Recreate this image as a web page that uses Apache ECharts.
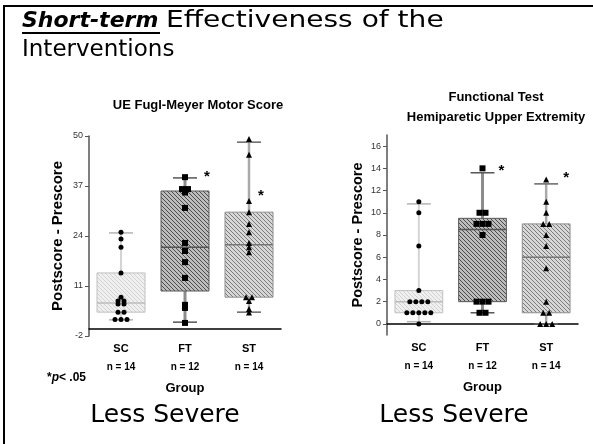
<!DOCTYPE html>
<html>
<head>
<meta charset="utf-8">
<script src="https://cdn.jsdelivr.net/npm/echarts@6/dist/echarts.min.js"></script>
</head>
<body style="margin:0;">
<div id="main" style="width:593px;height:444px;"></div>
<script type="text/javascript">
// groups and sample sizes
var groups = ['SC', 'FT', 'ST'];
var groupN = ['n = 14', 'n = 12', 'n = 14'];
var groupSymbols = ['circle', 'rect', 'triangle'];

// UE Fugl-Meyer: [low whisker, Q1, median, Q3, high whisker]
var fmBox = [
  [2.2, 4.2, 6.6, 14.4, 24.8],
  [1.6, 9.7, 21.1, 35.7, 39.1],
  [4.2, 8.1, 21.7, 30.2, 48.4]
];
var fmPoints = [
  [25, 23.2, 21.1, 14.4, 8.1, 7.1, 7.1, 6.3, 6.3, 4.2, 4.2, 2.3, 2.3, 2.3],
  [39.3, 36.2, 36.2, 35.3, 31.3, 22.2, 20.1, 17.2, 13.1, 6.1, 5.3, 1.4],
  [49.2, 45.1, 33.1, 30.2, 27.1, 25, 22.2, 21.1, 19.8, 8.1, 8.1, 7.1, 5, 4.1]
];
var fmStars = [null, 39.4, 34.4];
var fmTicks = [-2, 11, 24, 37, 50];

// Functional test: [low whisker, Q1, median, Q3, high whisker]
var ftBox = [
  [0.2, 1, 2, 3, 10.8],
  [1, 2, 8.5, 9.5, 13.6],
  [0, 1, 6, 9, 12.6]
];
var ftPoints = [
  [11, 10, 7, 3, 2, 2, 2, 2, 1, 1, 1, 1, 1, 0],
  [14, 10, 10, 9, 9, 9, 8, 2, 2, 2, 1, 1],
  [13, 11, 10, 9, 9, 8, 7, 5, 2, 1, 1, 0, 0, 0]
];
var ftStars = [null, 13.8, 13.1];
var ftTicks = [0, 2, 4, 6, 8, 10, 12, 14, 16];

// diagonal hatch fill
function hatch(bg, fg) {
  var c = document.createElement('canvas');
  c.width = 4; c.height = 4;
  var ctx = c.getContext('2d');
  ctx.fillStyle = bg;
  ctx.fillRect(0, 0, 4, 4);
  ctx.strokeStyle = fg;
  ctx.lineWidth = 1;
  ctx.beginPath();
  ctx.moveTo(0, 0); ctx.lineTo(4, 4);
  ctx.moveTo(-1, 3); ctx.lineTo(1, 5);
  ctx.moveTo(3, -1); ctx.lineTo(5, 1);
  ctx.stroke();
  return { image: c, repeat: 'repeat' };
}

var boxStyles = [
  { fill: hatch('#f0f0f0', '#d2d2d2'), border: '#c0c0c0', whisker: '#d4d4d4', ww: 2, cap: '#b4b4b4', median: '#bcbcbc' },
  { fill: hatch('#bdbdbd', '#4c4c4c'), border: '#585858', whisker: '#8c8c8c', ww: 3, cap: '#555', median: '#555' },
  { fill: hatch('#d8d8d8', '#7a7a7a'), border: '#8e8e8e', whisker: '#aaaaaa', ww: 2.5, cap: '#666', median: '#777' }
];

function boxSeries(idx, boxes) {
  return {
    type: 'custom', xAxisIndex: idx, yAxisIndex: idx, z: 2,
    data: boxes.map(function (b, i) { return [i].concat(b); }),
    renderItem: function (params, api) {
      var i = api.value(0);
      var st = boxStyles[i];
      var lo = api.coord([i, api.value(1)]);
      var q1 = api.coord([i, api.value(2)]);
      var md = api.coord([i, api.value(3)]);
      var q3 = api.coord([i, api.value(4)]);
      var hi = api.coord([i, api.value(5)]);
      var bw = api.size([1, 0])[0] * 0.75;
      var cw = bw / 2;
      var x = lo[0];
      return {
        type: 'group',
        children: [
          { type: 'line', shape: { x1: x, y1: lo[1], x2: x, y2: hi[1] }, style: { stroke: st.whisker, lineWidth: st.ww } },
          { type: 'line', shape: { x1: x - cw / 2, y1: lo[1], x2: x + cw / 2, y2: lo[1] }, style: { stroke: st.cap, lineWidth: 1.5 } },
          { type: 'line', shape: { x1: x - cw / 2, y1: hi[1], x2: x + cw / 2, y2: hi[1] }, style: { stroke: st.cap, lineWidth: 1.5 } },
          { type: 'rect', shape: { x: x - bw / 2, y: q3[1], width: bw, height: q1[1] - q3[1] }, style: { fill: st.fill, stroke: st.border, lineWidth: 1 } },
          { type: 'line', shape: { x1: x - bw / 2, y1: md[1], x2: x + bw / 2, y2: md[1] }, style: { stroke: st.median, lineWidth: 1.5 } }
        ]
      };
    }
  };
}

function pointSeries(idx, points) {
  var data = [];
  points.forEach(function (vals, i) {
    var counts = {}, seen = {};
    vals.forEach(function (v) { counts[v] = (counts[v] || 0) + 1; });
    vals.forEach(function (v) {
      var k = seen[v] || 0;
      seen[v] = k + 1;
      data.push({
        value: [i, v],
        symbol: groupSymbols[i],
        symbolSize: i === 0 ? 5 : 6,
        symbolOffset: [(k - (counts[v] - 1) / 2) * 6, 0]
      });
    });
  });
  return {
    type: 'scatter', xAxisIndex: idx, yAxisIndex: idx, z: 5,
    itemStyle: { color: '#000', opacity: 1 },
    data: data
  };
}

function starSeries(idx, stars, dx) {
  var data = [];
  stars.forEach(function (v, i) { if (v !== null) data.push([i, v]); });
  return {
    type: 'custom', xAxisIndex: idx, yAxisIndex: idx, z: 6,
    data: data,
    renderItem: function (params, api) {
      var i = api.value(0);
      var p = api.coord([i, api.value(1)]);
      return {
        type: 'text', x: p[0] + dx[i], y: p[1],
        style: { text: '*', fill: '#000', font: 'bold 15px "Liberation Sans"', align: 'center', verticalAlign: 'middle' }
      };
    }
  };
}

var catLabel = {
  margin: 3,
  interval: 0,
  fontFamily: 'Liberation Sans',
  formatter: function (v, i) { return '{g|' + v + '}\n{n|' + groupN[i] + '}'; },
  rich: {
    g: { fontSize: 11, fontWeight: 'bold', color: '#000', lineHeight: 19 },
    n: { fontSize: 10, fontWeight: 'bold', color: '#000', lineHeight: 19 }
  }
};

function xAxis(grid) {
  return {
    type: 'category', gridIndex: grid, data: groups,
    name: 'Group', nameLocation: 'middle', nameGap: 46,
    nameTextStyle: { fontFamily: 'Liberation Sans', fontWeight: 'bold', fontSize: 13, color: '#000' },
    axisLine: { lineStyle: { color: '#000', width: 1.5 } },
    axisTick: { alignWithLabel: true, interval: 0, length: 4, lineStyle: { color: '#000' } },
    axisLabel: catLabel
  };
}

function yAxis(grid, min, max, ticks, gap, nameSize) {
  return {
    type: 'value', gridIndex: grid, min: min, max: max,
    name: 'Postscore - Prescore', nameLocation: 'middle', nameGap: gap, nameRotate: 90,
    nameTextStyle: { fontFamily: 'Liberation Sans', fontWeight: 'bold', fontSize: nameSize, color: '#000' },
    axisLine: { show: true, lineStyle: { color: '#555', width: 1.5 } },
    axisTick: { show: true, length: 4, customValues: ticks, lineStyle: { color: '#555' } },
    axisLabel: { customValues: ticks, margin: 6, fontFamily: 'Liberation Sans', fontSize: 9, color: '#333' },
    splitLine: { show: false }
  };
}

var myChart = echarts.init(document.getElementById('main'));
var option = {
  animation: false,
  backgroundColor: '#fff',
  title: [
    { text: 'UE Fugl-Meyer Motor Score', left: 193, top: 94, textAlign: 'center',
      textStyle: { fontFamily: 'Liberation Sans', fontWeight: 'bold', fontSize: 13, color: '#000' } },
    { text: 'Functional Test\nHemiparetic Upper Extremity', left: 491, top: 82, textAlign: 'center',
      textStyle: { fontFamily: 'Liberation Sans', fontWeight: 'bold', fontSize: 13, lineHeight: 20, color: '#000' } }
  ],
  grid: [
    { left: 89, top: 136, width: 192, height: 200 },
    { left: 387, top: 135, width: 191, height: 200 }
  ],
  xAxis: [xAxis(0), xAxis(1)],
  yAxis: [yAxis(0, -2, 50, fmTicks, 24, 15), yAxis(1, -1, 17, ftTicks, 22, 14.5)],
  series: [
    boxSeries(0, fmBox), pointSeries(0, fmPoints), starSeries(0, fmStars, [0, 22, 12]),
    boxSeries(1, ftBox), pointSeries(1, ftPoints), starSeries(1, ftStars, [0, 19, 20])
  ],
  graphic: [
    { type: 'rect', shape: { x: 4, y: 6, width: 700, height: 600 }, style: { fill: 'none', stroke: '#000', lineWidth: 2 } },
    { type: 'text', x: 22, y: 21, style: { text: 'Short-term', font: 'italic bold 22px "DejaVu Sans"', fill: '#000', verticalAlign: 'middle' } },
    { type: 'line', shape: { x1: 22, y1: 33, x2: 160, y2: 33 }, style: { stroke: '#000', lineWidth: 2 } },
    { type: 'text', x: 166, y: 21, scaleX: 1.22, style: { text: 'Effectiveness of the', font: '23px "DejaVu Sans"', fill: '#000', verticalAlign: 'middle' } },
    { type: 'text', x: 22, y: 50, style: { text: 'Interventions', font: '23px "DejaVu Sans"', fill: '#000', verticalAlign: 'middle' } },
    { type: 'text', x: 47, y: 378, style: { text: '{a|*}{b|p}{a|< .05}', fill: '#000', verticalAlign: 'middle',
      rich: { a: { fontFamily: 'Liberation Sans', fontWeight: 'bold', fontSize: 12 },
              b: { fontFamily: 'Liberation Sans', fontWeight: 'bold', fontStyle: 'italic', fontSize: 12 } } } },
    { type: 'text', x: 165, y: 415, style: { text: 'Less Severe', font: '25px "DejaVu Sans"', fill: '#000', align: 'center', verticalAlign: 'middle' } },
    { type: 'text', x: 454, y: 415, style: { text: 'Less Severe', font: '25px "DejaVu Sans"', fill: '#000', align: 'center', verticalAlign: 'middle' } }
  ]
};
myChart.setOption(option);
</script>
</body>
</html>
